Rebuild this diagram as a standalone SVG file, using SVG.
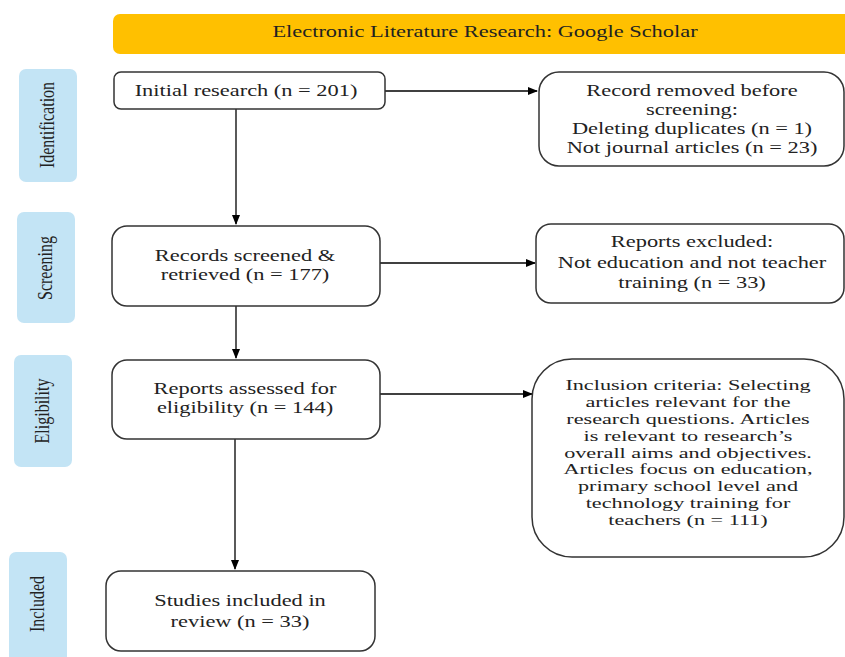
<svg xmlns="http://www.w3.org/2000/svg" width="845" height="657" viewBox="0 0 845 657">
<defs>
<marker id="ah" markerWidth="10" markerHeight="8" refX="9" refY="4" orient="auto" markerUnits="userSpaceOnUse">
<path d="M0,0 L10,4 L0,8 Z" fill="#000"/>
</marker>
<style>
.box{fill:#fff;stroke:#333;stroke-width:1.5}
.side{fill:#C3E4F5}
.t{font-family:"Liberation Serif","Times New Roman",serif;font-size:16px;fill:#222;text-anchor:middle}
.i{font-size:15px}
.c{stroke:#000;stroke-width:1.3;fill:none;marker-end:url(#ah)}
</style>
</defs>
<rect width="845" height="657" fill="#fff"/>
<g id="banner">
<rect x="113" y="14" width="745" height="40" rx="7" fill="#FFC000"/>
<text class="t" transform="translate(485,37) scale(1.4,1)">Electronic Literature Research: Google Scholar</text>
</g>
<g id="stage-identification">
<rect class="side" x="19" y="69" width="58" height="113" rx="7"/>
<text class="t" transform="translate(54,125) rotate(-90) scale(1,1.3)">Identification</text>
</g>
<g id="stage-screening">
<rect class="side" x="17" y="212" width="58" height="111" rx="7"/>
<text class="t" transform="translate(52,268) rotate(-90) scale(1,1.3)">Screening</text>
</g>
<g id="stage-eligibility">
<rect class="side" x="14" y="355" width="58" height="112" rx="7"/>
<text class="t" transform="translate(49,411) rotate(-90) scale(1,1.3)">Eligibility</text>
</g>
<g id="stage-included">
<rect class="side" x="9" y="552" width="58" height="115" rx="7"/>
<text class="t" transform="translate(44,604) rotate(-90) scale(1,1.3)">Included</text>
</g>
<g id="connectors">
<line class="c" x1="385" y1="91" x2="537" y2="91"/>
<line class="c" x1="236" y1="109" x2="236" y2="224"/>
<line class="c" x1="380" y1="263" x2="535" y2="263"/>
<line class="c" x1="236" y1="306" x2="236" y2="358"/>
<line class="c" x1="380" y1="394" x2="532" y2="394"/>
<line class="c" x1="235" y1="439" x2="235" y2="569"/>
</g>
<g id="initial">
<rect class="box" x="114" y="72" width="271" height="37" rx="7"/>
<text class="t" transform="translate(246,96) scale(1.4,1)">Initial research (n = 201)</text>
</g>
<g id="removed">
<rect class="box" x="539" y="72" width="305" height="94" rx="20"/>
<text class="t" transform="translate(692,96) scale(1.4,1)">Record removed before</text>
<text class="t" transform="translate(692,115) scale(1.4,1)">screening:</text>
<text class="t" transform="translate(692,134) scale(1.4,1)">Deleting duplicates (n = 1)</text>
<text class="t" transform="translate(692,153) scale(1.4,1)">Not journal articles (n = 23)</text>
</g>
<g id="screened">
<rect class="box" x="112" y="226" width="268" height="80" rx="15"/>
<text class="t" transform="translate(245,261) scale(1.4,1)">Records screened &amp;</text>
<text class="t" transform="translate(245,280) scale(1.4,1)">retrieved (n = 177)</text>
</g>
<g id="excluded">
<rect class="box" x="536" y="224" width="308" height="79" rx="15"/>
<text class="t" transform="translate(692,247) scale(1.4,1)">Reports excluded:</text>
<text class="t" transform="translate(692,268) scale(1.4,1)">Not education and not teacher</text>
<text class="t" transform="translate(692,288) scale(1.4,1)">training (n = 33)</text>
</g>
<g id="assessed">
<rect class="box" x="112" y="360" width="268" height="79" rx="15"/>
<text class="t" transform="translate(245,394) scale(1.4,1)">Reports assessed for</text>
<text class="t" transform="translate(245,413) scale(1.4,1)">eligibility (n = 144)</text>
</g>
<g id="inclusion">
<rect class="box" x="532" y="359" width="312" height="198" rx="40"/>
<text class="t i" transform="translate(688,390) scale(1.48,1)">Inclusion criteria: Selecting</text>
<text class="t i" transform="translate(688,407) scale(1.48,1)">articles relevant for the</text>
<text class="t i" transform="translate(688,424) scale(1.48,1)">research questions. Articles</text>
<text class="t i" transform="translate(688,441) scale(1.48,1)">is relevant to research’s</text>
<text class="t i" transform="translate(688,458) scale(1.48,1)">overall aims and objectives.</text>
<text class="t i" transform="translate(688,474) scale(1.48,1)">Articles focus on education,</text>
<text class="t i" transform="translate(688,491) scale(1.48,1)">primary school level and</text>
<text class="t i" transform="translate(688,508) scale(1.48,1)">technology training for</text>
<text class="t i" transform="translate(688,525) scale(1.48,1)">teachers (n = 111)</text>
</g>
<g id="included">
<rect class="box" x="106" y="571" width="269" height="80" rx="15"/>
<text class="t" transform="translate(240,606) scale(1.4,1)">Studies included in</text>
<text class="t" transform="translate(240,627) scale(1.4,1)">review (n = 33)</text>
</g>
</svg>
